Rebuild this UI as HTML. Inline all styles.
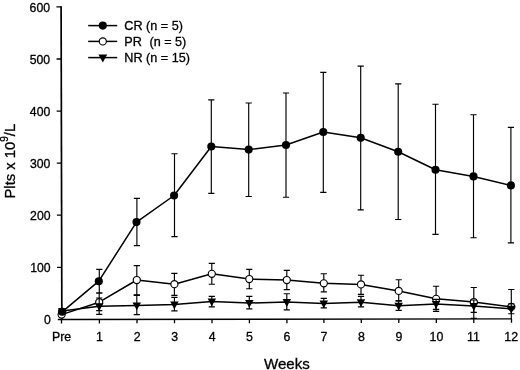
<!DOCTYPE html>
<html><head><meta charset="utf-8"><title>Platelet response</title>
<style>html,body{margin:0;padding:0;background:#fff}body{width:520px;height:370px;overflow:hidden;position:relative}</style>
</head><body>
<svg width="520" height="370" viewBox="0 0 520 370" style="position:absolute;left:0;top:0;will-change:transform">
<rect width="520" height="370" fill="#fff"/>
<path d="M61.10 6.2L61.85 320.1" stroke="#000" stroke-width="1.7" fill="none"/>
<path d="M57.85 319.46L512.0 318.85" stroke="#000" stroke-width="1.4" fill="none"/>
<path d="M57.03 267.3H61.73M56.90 215.2H61.60M56.78 163.1H61.48M56.65 111.1H61.35M56.52 59.0H61.22M56.40 6.9H61.10M61.5 319.45V323.45M99.4 319.40V323.40M137.0 319.35V323.35M174.5 319.30V323.30M212.0 319.25V323.25M249.4 319.20V323.20M286.9 319.15V323.15M323.9 319.10V323.10M361.3 319.05V323.05M398.8 319.00V323.00M436.3 318.95V322.95M473.8 318.90V322.90M511.5 318.85V322.85" stroke="#000" stroke-width="1.3" fill="none"/>
<path d="M99.3 269.3V293.0M96.2 269.3H102.4M96.2 293.0H102.4M136.9 198.4V245.6M133.8 198.4H140.0M133.8 245.6H140.0M174.5 153.7V236.6M171.4 153.7H177.6M171.4 236.6H177.6M211.3 99.8V193.4M208.2 99.8H214.4M208.2 193.4H214.4M248.7 103.0V196.5M245.6 103.0H251.8M245.6 196.5H251.8M286.0 93.0V197.2M282.9 93.0H289.1M282.9 197.2H289.1M323.3 72.3V192.4M320.2 72.3H326.4M320.2 192.4H326.4M360.7 66.1V209.9M357.6 66.1H363.8M357.6 209.9H363.8M398.2 83.9V219.5M395.1 83.9H401.3M395.1 219.5H401.3M435.5 104.2V234.4M432.4 104.2H438.6M432.4 234.4H438.6M473.5 114.7V237.7M470.4 114.7H476.6M470.4 237.7H476.6M510.9 127.4V242.9M507.8 127.4H514.0M507.8 242.9H514.0" stroke="#000" stroke-width="1.15" fill="none"/>
<polyline points="62.2,311.8 98.8,281.2 136.5,222.1 174.1,195.5 211.3,146.5 248.7,149.6 286.0,145.0 323.3,132.0 360.7,137.8 398.2,151.8 435.5,169.7 473.5,176.4 510.9,185.4" stroke="#000" stroke-width="1.5" fill="none" stroke-linejoin="round"/>
<circle cx="62.2" cy="311.8" r="4.05" fill="#000"/>
<circle cx="98.8" cy="281.2" r="4.05" fill="#000"/>
<circle cx="136.5" cy="222.1" r="4.05" fill="#000"/>
<circle cx="174.1" cy="195.5" r="4.05" fill="#000"/>
<circle cx="211.3" cy="146.5" r="4.05" fill="#000"/>
<circle cx="248.7" cy="149.6" r="4.05" fill="#000"/>
<circle cx="286.0" cy="145.0" r="4.05" fill="#000"/>
<circle cx="323.3" cy="132.0" r="4.05" fill="#000"/>
<circle cx="360.7" cy="137.8" r="4.05" fill="#000"/>
<circle cx="398.2" cy="151.8" r="4.05" fill="#000"/>
<circle cx="435.5" cy="169.7" r="4.05" fill="#000"/>
<circle cx="473.5" cy="176.4" r="4.05" fill="#000"/>
<circle cx="510.9" cy="185.4" r="4.05" fill="#000"/>
<path d="M99.2 293.0V310.6M96.1 293.0H102.3M96.1 310.6H102.3M136.8 265.6V294.8M133.7 265.6H139.9M133.7 294.8H139.9M174.4 273.3V295.4M171.3 273.3H177.5M171.3 295.4H177.5M211.8 263.3V284.2M208.7 263.3H214.9M208.7 284.2H214.9M249.3 269.4V288.7M246.2 269.4H252.4M246.2 288.7H252.4M286.8 270.4V289.6M283.7 270.4H289.9M283.7 289.6H289.9M323.8 273.7V291.9M320.7 273.7H326.9M320.7 291.9H326.9M361.0 275.2V294.4M357.9 275.2H364.1M357.9 294.4H364.1M398.7 279.7V300.8M395.6 279.7H401.8M395.6 300.8H401.8M436.1 286.2V311.3M432.9 286.2H439.2M432.9 311.3H439.2M473.8 287.5V318.3M470.7 287.5H476.9M470.7 318.3H476.9M511.3 289.5V319.3M508.2 289.5H514.4" stroke="#000" stroke-width="1.15" fill="none"/>
<polyline points="61.6,314.6 99.2,302.2 136.8,280.0 174.4,284.2 211.8,273.8 249.3,279.0 286.8,280.0 323.8,283.3 361.0,284.4 398.7,290.9 436.1,298.8 473.8,302.0 511.3,306.9" stroke="#000" stroke-width="1.5" fill="none" stroke-linejoin="round"/>
<circle cx="61.6" cy="314.6" r="3.55" fill="#fff" stroke="#000" stroke-width="1.15"/>
<circle cx="99.2" cy="302.2" r="3.55" fill="#fff" stroke="#000" stroke-width="1.15"/>
<circle cx="136.8" cy="280.0" r="3.55" fill="#fff" stroke="#000" stroke-width="1.15"/>
<circle cx="174.4" cy="284.2" r="3.55" fill="#fff" stroke="#000" stroke-width="1.15"/>
<circle cx="211.8" cy="273.8" r="3.55" fill="#fff" stroke="#000" stroke-width="1.15"/>
<circle cx="249.3" cy="279.0" r="3.55" fill="#fff" stroke="#000" stroke-width="1.15"/>
<circle cx="286.8" cy="280.0" r="3.55" fill="#fff" stroke="#000" stroke-width="1.15"/>
<circle cx="323.8" cy="283.3" r="3.55" fill="#fff" stroke="#000" stroke-width="1.15"/>
<circle cx="361.0" cy="284.4" r="3.55" fill="#fff" stroke="#000" stroke-width="1.15"/>
<circle cx="398.7" cy="290.9" r="3.55" fill="#fff" stroke="#000" stroke-width="1.15"/>
<circle cx="436.1" cy="298.8" r="3.55" fill="#fff" stroke="#000" stroke-width="1.15"/>
<circle cx="473.8" cy="302.0" r="3.55" fill="#fff" stroke="#000" stroke-width="1.15"/>
<circle cx="511.3" cy="306.9" r="3.55" fill="#fff" stroke="#000" stroke-width="1.15"/>
<path d="M99.2 298.0V314.4M96.1 298.0H102.3M96.1 314.4H102.3M136.8 295.4V314.6M133.7 295.4H139.9M133.7 314.6H139.9M174.4 297.3V310.8M171.3 297.3H177.5M171.3 310.8H177.5M211.8 296.3V306.9M208.7 296.3H214.9M208.7 306.9H214.9M249.3 296.3V308.8M246.2 296.3H252.4M246.2 308.8H252.4M286.8 293.7V309.9M283.7 293.7H289.9M283.7 309.9H289.9M323.8 298.3V307.9M320.7 298.3H326.9M320.7 307.9H326.9M361.0 296.3V306.9M357.9 296.3H364.1M357.9 306.9H364.1M398.7 300.8V310.3M395.6 300.8H401.8M395.6 310.3H401.8M436.1 299.4V309.4M432.9 299.4H439.2M432.9 309.4H439.2M473.8 300.0V312.4M470.7 300.0H476.9M470.7 312.4H476.9M511.3 303.7V313.7M508.2 303.7H514.4M508.2 313.7H514.4" stroke="#000" stroke-width="1.15" fill="none"/>
<polyline points="62.2,311.0 99.2,306.3 136.8,305.5 174.4,304.4 211.8,301.4 249.3,303.0 286.8,302.1 323.8,303.5 361.0,302.3 398.7,305.8 436.1,304.0 473.8,306.0 511.3,308.8" stroke="#000" stroke-width="1.5" fill="none" stroke-linejoin="round"/>
<path d="M58.0 308.0H66.5L62.2 315.8Z" fill="#000"/>
<path d="M95.0 303.3H103.5L99.2 311.1Z" fill="#000"/>
<path d="M132.5 302.5H141.0L136.8 310.3Z" fill="#000"/>
<path d="M170.2 301.4H178.7L174.4 309.2Z" fill="#000"/>
<path d="M207.6 298.4H216.1L211.8 306.2Z" fill="#000"/>
<path d="M245.1 300.0H253.6L249.3 307.8Z" fill="#000"/>
<path d="M282.6 299.1H291.1L286.8 306.9Z" fill="#000"/>
<path d="M319.5 300.5H328.0L323.8 308.3Z" fill="#000"/>
<path d="M356.7 299.3H365.2L361.0 307.1Z" fill="#000"/>
<path d="M394.4 302.8H402.9L398.7 310.6Z" fill="#000"/>
<path d="M431.8 301.0H440.3L436.1 308.8Z" fill="#000"/>
<path d="M469.6 303.0H478.1L473.8 310.8Z" fill="#000"/>
<path d="M507.0 305.8H515.5L511.3 313.6Z" fill="#000"/>
<circle cx="62.2" cy="311.8" r="4.05" fill="#000"/>
<path d="M88.2 25.6H117.2" stroke="#000" stroke-width="1.5"/>
<path d="M88.2 41.4H117.2" stroke="#000" stroke-width="1.5"/>
<path d="M88.2 57.6H117.2" stroke="#000" stroke-width="1.5"/>
<circle cx="102.8" cy="25.6" r="4.05" fill="#000"/>
<circle cx="102.8" cy="41.4" r="3.55" fill="#fff" stroke="#000" stroke-width="1.15"/>
<path d="M98.4 54.5H107.2L102.8 62.5Z" fill="#000"/>
<text transform="translate(124.3 30.1) scale(1.027 1)" font-family="Liberation Sans, Arial, Helvetica, sans-serif" stroke="#000" stroke-width="0.3" font-size="12.3" fill="#000">CR (n = 5)</text>
<text transform="translate(124.3 45.7) scale(1.027 1)" font-family="Liberation Sans, Arial, Helvetica, sans-serif" stroke="#000" stroke-width="0.3" font-size="12.3" fill="#000">PR &#160;<tspan dx="0.6">(n = 5)</tspan></text>
<text transform="translate(124.3 62.0) scale(1.027 1)" font-family="Liberation Sans, Arial, Helvetica, sans-serif" stroke="#000" stroke-width="0.3" font-size="12.3" fill="#000">NR (n = 15)</text>
<text transform="translate(50.75 324.2) scale(1.02 1)" text-anchor="end" font-family="Liberation Sans, Arial, Helvetica, sans-serif" stroke="#000" stroke-width="0.3" font-size="12" fill="#000">0</text>
<text transform="translate(50.63 272.2) scale(1.02 1)" text-anchor="end" font-family="Liberation Sans, Arial, Helvetica, sans-serif" stroke="#000" stroke-width="0.3" font-size="12" fill="#000">100</text>
<text transform="translate(50.50 220.1) scale(1.02 1)" text-anchor="end" font-family="Liberation Sans, Arial, Helvetica, sans-serif" stroke="#000" stroke-width="0.3" font-size="12" fill="#000">200</text>
<text transform="translate(50.38 168.0) scale(1.02 1)" text-anchor="end" font-family="Liberation Sans, Arial, Helvetica, sans-serif" stroke="#000" stroke-width="0.3" font-size="12" fill="#000">300</text>
<text transform="translate(50.25 116.0) scale(1.02 1)" text-anchor="end" font-family="Liberation Sans, Arial, Helvetica, sans-serif" stroke="#000" stroke-width="0.3" font-size="12" fill="#000">400</text>
<text transform="translate(50.12 63.9) scale(1.02 1)" text-anchor="end" font-family="Liberation Sans, Arial, Helvetica, sans-serif" stroke="#000" stroke-width="0.3" font-size="12" fill="#000">500</text>
<text transform="translate(50.00 11.8) scale(1.02 1)" text-anchor="end" font-family="Liberation Sans, Arial, Helvetica, sans-serif" stroke="#000" stroke-width="0.3" font-size="12" fill="#000">600</text>
<text transform="translate(61.6 341.3) scale(1.03 1)" text-anchor="middle" font-family="Liberation Sans, Arial, Helvetica, sans-serif" stroke="#000" stroke-width="0.3" font-size="12" fill="#000">Pre</text>
<text transform="translate(99.5 341.3) scale(1.03 1)" text-anchor="middle" font-family="Liberation Sans, Arial, Helvetica, sans-serif" stroke="#000" stroke-width="0.3" font-size="12" fill="#000">1</text>
<text transform="translate(137.1 341.3) scale(1.03 1)" text-anchor="middle" font-family="Liberation Sans, Arial, Helvetica, sans-serif" stroke="#000" stroke-width="0.3" font-size="12" fill="#000">2</text>
<text transform="translate(174.6 341.3) scale(1.03 1)" text-anchor="middle" font-family="Liberation Sans, Arial, Helvetica, sans-serif" stroke="#000" stroke-width="0.3" font-size="12" fill="#000">3</text>
<text transform="translate(212.1 341.3) scale(1.03 1)" text-anchor="middle" font-family="Liberation Sans, Arial, Helvetica, sans-serif" stroke="#000" stroke-width="0.3" font-size="12" fill="#000">4</text>
<text transform="translate(249.5 341.3) scale(1.03 1)" text-anchor="middle" font-family="Liberation Sans, Arial, Helvetica, sans-serif" stroke="#000" stroke-width="0.3" font-size="12" fill="#000">5</text>
<text transform="translate(287.0 341.3) scale(1.03 1)" text-anchor="middle" font-family="Liberation Sans, Arial, Helvetica, sans-serif" stroke="#000" stroke-width="0.3" font-size="12" fill="#000">6</text>
<text transform="translate(324.0 341.3) scale(1.03 1)" text-anchor="middle" font-family="Liberation Sans, Arial, Helvetica, sans-serif" stroke="#000" stroke-width="0.3" font-size="12" fill="#000">7</text>
<text transform="translate(361.4 341.3) scale(1.03 1)" text-anchor="middle" font-family="Liberation Sans, Arial, Helvetica, sans-serif" stroke="#000" stroke-width="0.3" font-size="12" fill="#000">8</text>
<text transform="translate(398.9 341.3) scale(1.03 1)" text-anchor="middle" font-family="Liberation Sans, Arial, Helvetica, sans-serif" stroke="#000" stroke-width="0.3" font-size="12" fill="#000">9</text>
<text transform="translate(436.4 341.3) scale(1.03 1)" text-anchor="middle" font-family="Liberation Sans, Arial, Helvetica, sans-serif" stroke="#000" stroke-width="0.3" font-size="12" fill="#000">10</text>
<text transform="translate(473.5 341.3) scale(1.03 1)" text-anchor="middle" font-family="Liberation Sans, Arial, Helvetica, sans-serif" stroke="#000" stroke-width="0.3" font-size="12" fill="#000">11</text>
<text transform="translate(511.2 341.3) scale(1.03 1)" text-anchor="middle" font-family="Liberation Sans, Arial, Helvetica, sans-serif" stroke="#000" stroke-width="0.3" font-size="12" fill="#000">12</text>
<text x="286.9" y="368.9" text-anchor="middle" font-family="Liberation Sans, Arial, Helvetica, sans-serif" stroke="#000" stroke-width="0.3" font-size="15.1" fill="#000">Weeks</text>
<text transform="translate(14.6 198.5) rotate(-90)" font-family="Liberation Sans, Arial, Helvetica, sans-serif" stroke="#000" stroke-width="0.3" font-size="14.8" fill="#000">Plts x 10<tspan dy="-6.2" font-size="10">9</tspan><tspan dy="6.2">/L</tspan></text>
</svg>
</body></html>
